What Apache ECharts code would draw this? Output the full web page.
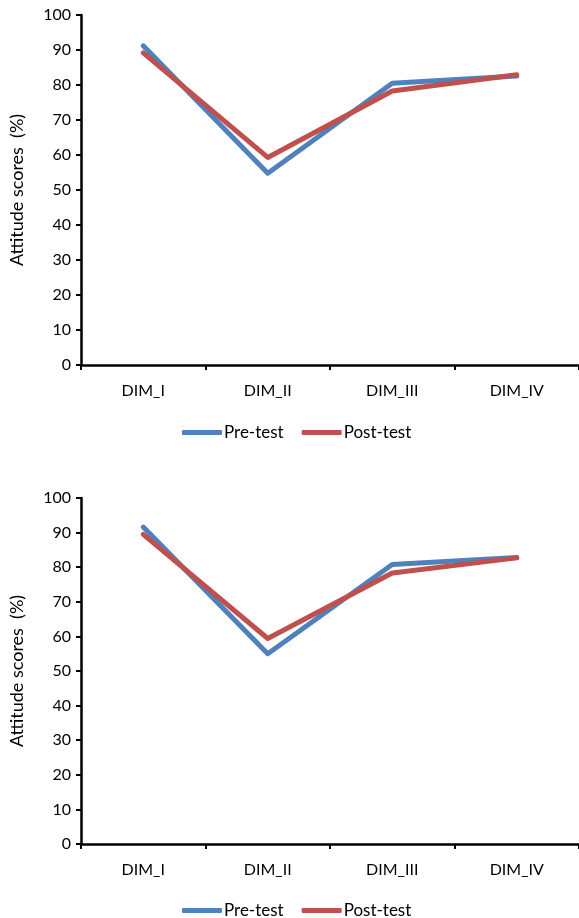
<!DOCTYPE html>
<html>
<head>
<meta charset="utf-8">
<script src="https://cdn.jsdelivr.net/npm/echarts@6/dist/echarts.min.js"></script>
<style>
html,body{margin:0;padding:0;background:#fff;}
#chart{width:579px;height:918px;}
</style>
</head>
<body>
<div id="chart"></div>
<script>
const categories = ['DIM_I', 'DIM_II', 'DIM_III', 'DIM_IV'];
const seriesNames = ['Pre-test', 'Post-test'];
const topPre = [91.2, 54.8, 80.5, 82.6];
const topPost = [89.2, 59.3, 78.3, 82.9];
const bottomPre = [91.6, 55.0, 80.8, 82.8];
const bottomPost = [89.5, 59.4, 78.3, 82.7];
const yTicks = [0, 10, 20, 30, 40, 50, 60, 70, 80, 90, 100];
const yTitle = 'Attitude scores  (%)';

const FONT = 'Lato, "Open Sans", sans-serif';
const colors = ['#4F81BD', '#C0504D'];

function xAxis(gi) {
  return {
    type: 'category', gridIndex: gi, data: categories, boundaryGap: true,
    axisLine: { lineStyle: { color: '#000', width: 2.5 } },
    axisTick: { show: true, length: 5, lineStyle: { color: '#000', width: 2 }, alignWithLabel: false },
    axisLabel: { color: '#000', fontSize: 16, fontFamily: FONT, margin: 18 },
    splitLine: { show: false }
  };
}
function yAxis(gi) {
  return {
    type: 'value', gridIndex: gi, min: yTicks[0], max: yTicks[yTicks.length - 1], interval: 10,
    name: yTitle, nameLocation: 'middle', nameGap: 55, nameRotate: 90,
    nameTextStyle: { color: '#000', fontSize: 18, fontFamily: FONT },
    axisLine: { show: true, lineStyle: { color: '#000', width: 2.5 } },
    axisTick: { show: true, length: 5, lineStyle: { color: '#000', width: 2 } },
    axisLabel: { color: '#000', fontSize: 16, fontFamily: FONT, margin: 10 },
    splitLine: { show: false }
  };
}
function line(name, data, gi, ci) {
  return {
    type: 'line', name: name, data: data, xAxisIndex: gi, yAxisIndex: gi,
    symbol: 'none', lineStyle: { color: colors[ci], width: 5, cap: 'round', join: 'round' },
    itemStyle: { color: colors[ci] }, animation: false
  };
}
function legend(top) {
  return {
    data: seriesNames, top: top, left: 177, icon: 'roundRect', itemWidth: 40, itemHeight: 5,
    itemGap: 18, textStyle: { color: '#000', fontSize: 17, fontFamily: FONT, padding: [0, 0, 0, -3] }
  };
}

const chart = echarts.init(document.getElementById('chart'), null, { renderer: 'canvas' });
chart.setOption({
  backgroundColor: '#fff',
  animation: false,
  grid: [
    { left: 79, top: 15, width: 500, height: 350 },
    { left: 79, top: 498, width: 500, height: 346 }
  ],
  xAxis: [xAxis(0), xAxis(1)],
  yAxis: [yAxis(0), yAxis(1)],
  legend: [legend(419), legend(897)],
  series: [
    line(seriesNames[0], topPre, 0, 0),
    line(seriesNames[1], topPost, 0, 1),
    line(seriesNames[0], bottomPre, 1, 0),
    line(seriesNames[1], bottomPost, 1, 1)
  ]
});
</script>
</body>
</html>
